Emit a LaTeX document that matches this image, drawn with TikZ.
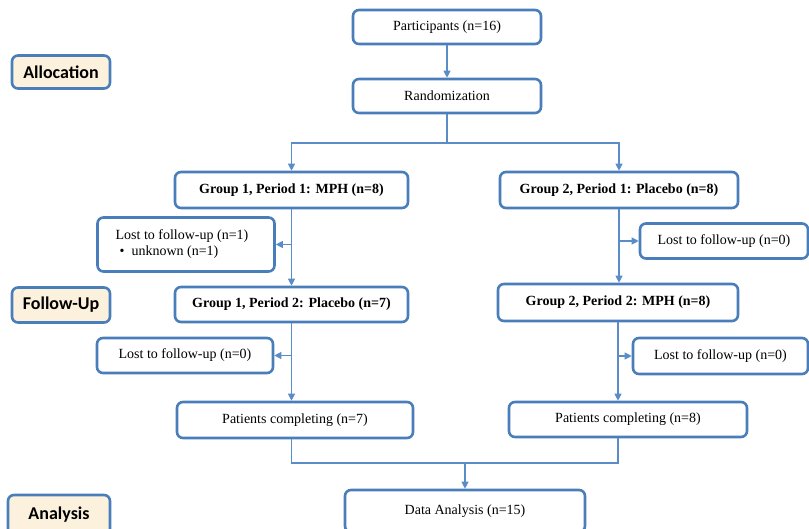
\documentclass[tikz,border=0pt]{standalone}
\usepackage{fontspec}
\setmainfont{Liberation Serif}
\newfontfamily\labfont{Carlito}
\usetikzlibrary{arrows.meta,positioning}
\definecolor{boxblue}{HTML}{4A7EBB}
\definecolor{lineblue}{HTML}{5A8CC8}
\definecolor{cream}{HTML}{FCF1DC}
\tikzset{
  flowbox/.style={draw=boxblue, line width=2.6pt, rounded corners=6pt, fill=white,
    inner sep=0pt, align=center, font=\fontsize{14}{17}\selectfont},
  boldbox/.style={flowbox, font=\fontsize{14}{17}\selectfont\bfseries},
  stagebox/.style={draw=boxblue, line width=2.6pt, rounded corners=6pt, fill=cream,
    inner sep=0pt, font=\labfont\fontsize{18}{21}\selectfont\bfseries},
  conn/.style={draw=lineblue, line width=1.1pt},
  arr/.style={conn, -{Triangle[length=7pt,width=7pt]}}
}
\begin{document}
\begin{tikzpicture}[x=1pt,y=-1pt]
\useasboundingbox (0,0) rectangle (809,529);
% stage labels
\node[stagebox, minimum width=98pt, minimum height=33pt] (alloc) at (61,72) {Allocation};
\node[stagebox, minimum width=98pt, minimum height=35pt] (follow) at (61,305) {Follow-Up};
\node[stagebox, minimum width=102pt, minimum height=40pt] (anal) at (59,515) {Analysis};
% flow boxes
\node[flowbox, minimum width=188pt, minimum height=34pt] (part) at (447,27) {Participants (n=16)};
\node[flowbox, minimum width=188pt, minimum height=34pt] (rand) at (447,96) {Randomization};
\node[boldbox, minimum width=233pt, minimum height=36pt] (g1p1) at (291.5,190) {Group 1, Period 1: MPH (n=8)};
\node[boldbox, minimum width=238pt, minimum height=36pt] (g2p1) at (619,190) {Group 2, Period 1: Placebo (n=8)};
\node[flowbox, minimum width=177pt, minimum height=54pt, align=left] (lost1) at (186,244.5)
  {Lost to follow-up (n=1)\hspace*{8pt}\\[-1pt]\hspace*{4pt}\textbullet\hspace{7pt}unknown (n=1)};
\node[flowbox, minimum width=168pt, minimum height=35pt] (lostr1) at (724,241) {Lost to follow-up (n=0)};
\node[boldbox, minimum width=233pt, minimum height=35pt] (g1p2) at (291.5,304.5) {Group 1, Period 2: Placebo (n=7)};
\node[boldbox, minimum width=240pt, minimum height=37pt] (g2p2) at (618,302.5) {Group 2, Period 2: MPH (n=8)};
\node[flowbox, minimum width=176pt, minimum height=35pt] (lostl2) at (185,355.5) {Lost to follow-up (n=0)};
\node[flowbox, minimum width=175pt, minimum height=36pt] (lostr2) at (720.5,356) {Lost to follow-up (n=0)};
\node[flowbox, minimum width=236pt, minimum height=36pt] (pat1) at (295,420) {Patients completing (n=7)};
\node[flowbox, minimum width=238pt, minimum height=35pt] (pat2) at (628,419.5) {Patients completing (n=8)};
\node[flowbox, minimum width=240pt, minimum height=42pt] (data) at (465,511) {Data Analysis (n=15)};
% connectors
\coordinate (split) at (447,143);
\coordinate (join) at (465,463);
\draw[arr] (part) -- (rand);
\draw[conn] (rand.south) -- (split);
\draw[arr] (split) -| (g1p1.north);
\draw[arr] (split) -| (g2p1.north);
\draw[arr] (g1p1.south) -- (g1p2.north);
\draw[arr] (g1p1.south |- lost1.east) -- (lost1.east);
\draw[arr] (g2p1.south) -- (g2p1.south |- g2p2.north);
\draw[arr] (g2p1.south |- lostr1.west) -- (lostr1.west);
\draw[arr] (g1p2.south) -- (g1p2.south |- pat1.north);
\draw[arr] (g1p2.south |- lostl2.east) -- (lostl2.east);
\draw[arr] (g2p2.south) -- (g2p2.south |- pat2.north);
\draw[arr] (g2p2.south |- lostr2.west) -- (lostr2.west);
\draw[conn] (g1p2.south |- pat1.south) -- (g1p2.south |- join) -- (g2p2.south |- join) -- (g2p2.south |- pat2.south);
\draw[arr] (join) -- (data.north);
\end{tikzpicture}
\end{document}
